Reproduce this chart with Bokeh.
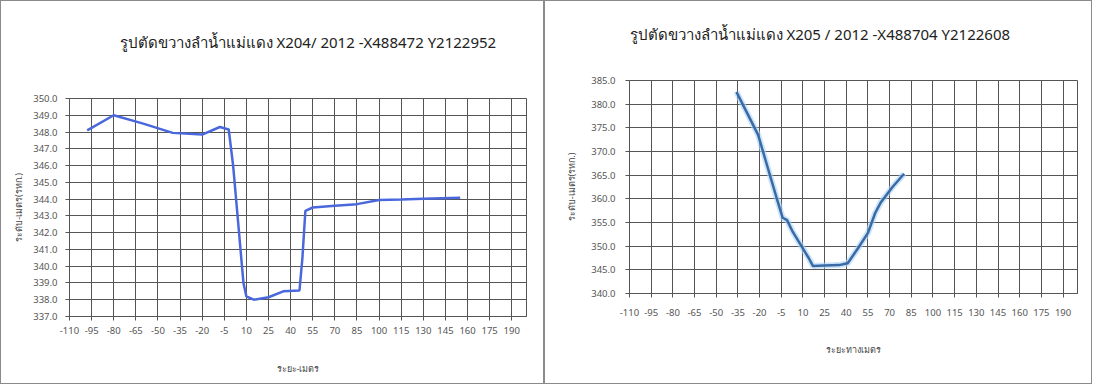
from jinja2 import Template
from bokeh.plotting import figure
from bokeh.models import FixedTicker, PrintfTickFormatter, Range1d, Title
from bokeh.embed import file_html
from bokeh.resources import INLINE

# ---- data: left section X204 ----
left_title = "รูปตัดขวางลำน้ำแม่แดง X204/ 2012 -X488472 Y2122952"
left_dist = [-98, -80, -60, -40, -20, -8, -2, 1, 4, 8, 10, 15, 25, 35, 46, 48, 50, 55, 70, 85, 100, 115, 130, 155]
left_elev = [348.1, 349.0, 348.5, 347.95, 347.85, 348.3, 348.15, 346.0, 343.0, 339.0, 338.2, 338.0,
             338.15, 338.5, 338.55, 340.5, 343.3, 343.5, 343.6, 343.7, 343.95, 343.98, 344.02, 344.08]
left_yticks = [337, 338, 339, 340, 341, 342, 343, 344, 345, 346, 347, 348, 349, 350]

# ---- data: right section X205 ----
right_title = "รูปตัดขวางลำน้ำแม่แดง X205 / 2012 -X488704 Y2122608"
right_dist = [-36, -21, -8, -4, -1, 3, 9, 14, 17, 25, 35, 41, 48, 55, 60, 64, 72, 80]
right_elev = [382.6, 373.5, 360.0, 356.0, 355.5, 353.0, 350.0, 347.5, 345.8, 345.9, 346.0, 346.4,
              349.5, 352.8, 357.0, 359.3, 362.5, 365.3]
right_yticks = [340, 345, 350, 355, 360, 365, 370, 375, 380, 385]

x_ticks = list(range(-110, 191, 15))
y_title = "ระดับ-เมตร(รทก.)"
left_xtitle = "ระยะ-เมตร"
right_xtitle = "ระยะทางเมตร"

FONT = "Noto Sans"
GRID = "#555555"

# two independent roots side by side (so plot frames are not force-aligned)
PAGE = Template("""<!DOCTYPE html>
<html lang="en">
<head>
<meta charset="utf-8">
<title>{{ title if title else "Bokeh Plot" }}</title>
<style>html, body { margin: 0; padding: 0; } .pair { display: flex; flex-direction: row; align-items: flex-start; }</style>
{{ bokeh_css if bokeh_css }}
{{ bokeh_js if bokeh_js }}
</head>
<body>
<div class="pair">
{% for doc in docs %}{% for root in doc.roots %}<div id="{{ root.elementid }}" style="display: contents;"></div>
{% endfor %}{% endfor %}
</div>
{{ plot_script }}
</body>
</html>""")


def make(title, title_off, spacer, xs, ys, yticks, ymin, ymax, color, xtitle, w, h, mb, halo=False):
    p = figure(width=w, height=h, output_backend="svg", toolbar_location=None, title=None,
               x_range=Range1d(-110, 200), y_range=Range1d(ymin, ymax),
               min_border_left=mb[0], min_border_right=mb[1],
               min_border_top=mb[2], min_border_bottom=mb[3])
    p.add_layout(Title(text="\u00a0", text_font_size=spacer, text_font=FONT), "above")
    p.add_layout(Title(text=title, align="left", offset=title_off, text_font=FONT,
                       text_font_size="15px", text_font_style="normal",
                       text_color="#222222"), "above")
    p.outline_line_color = "#555555"
    p.outline_line_width = 1
    p.background_fill_color = "white"
    p.border_fill_color = "white"
    p.styles = {"border": "1px solid #8a8a8a"}

    p.xaxis.ticker = FixedTicker(ticks=x_ticks)
    p.xaxis.formatter = PrintfTickFormatter(format="%d")
    p.yaxis.ticker = FixedTicker(ticks=yticks)
    p.yaxis.formatter = PrintfTickFormatter(format="%.1f")
    for ax in (p.xaxis[0], p.yaxis[0]):
        ax.axis_line_color = "#555555"
        ax.major_tick_line_color = "#555555"
        ax.major_tick_in = 0
        ax.major_tick_out = 4
        ax.minor_tick_line_color = None
        ax.major_label_text_font = FONT
        ax.major_label_text_font_size = "9.5px"
        ax.major_label_text_color = "#555555"
        ax.axis_label_text_font = FONT
        ax.axis_label_text_font_size = "9px"
        ax.axis_label_text_font_style = "normal"
        ax.axis_label_text_color = "#444444"
    p.xaxis.axis_label = xtitle
    p.yaxis.axis_label = y_title
    p.xaxis.major_label_standoff = mb[4]
    p.yaxis.major_label_standoff = mb[5]
    p.xaxis.axis_label_standoff = mb[6]
    p.yaxis.axis_label_standoff = mb[7]

    p.xgrid.ticker = FixedTicker(ticks=x_ticks)
    p.ygrid.ticker = FixedTicker(ticks=yticks)
    p.grid.grid_line_color = GRID
    p.grid.grid_line_width = 1

    if halo:
        p.line(xs, ys, line_color="#a9d2f5", line_width=6, line_alpha=0.6)
    p.line(xs, ys, line_color=color, line_width=2.5)
    return p


p1 = make(left_title, 50, "22px", left_dist, left_elev, left_yticks, 337, 350, "#4a68dc", left_xtitle,
          544, 384, (68, 19, 97, 69, 6, 8, 25, 5))
p2 = make(right_title, 0, "15px", right_dist, right_elev, right_yticks, 340, 385, "#3a6aa6", right_xtitle,
          548, 384, (84, 16, 79, 92, 11, 10, 24, 10), halo=True)

open("out.html", "w").write(file_html([p1, p2], INLINE, template=PAGE))
